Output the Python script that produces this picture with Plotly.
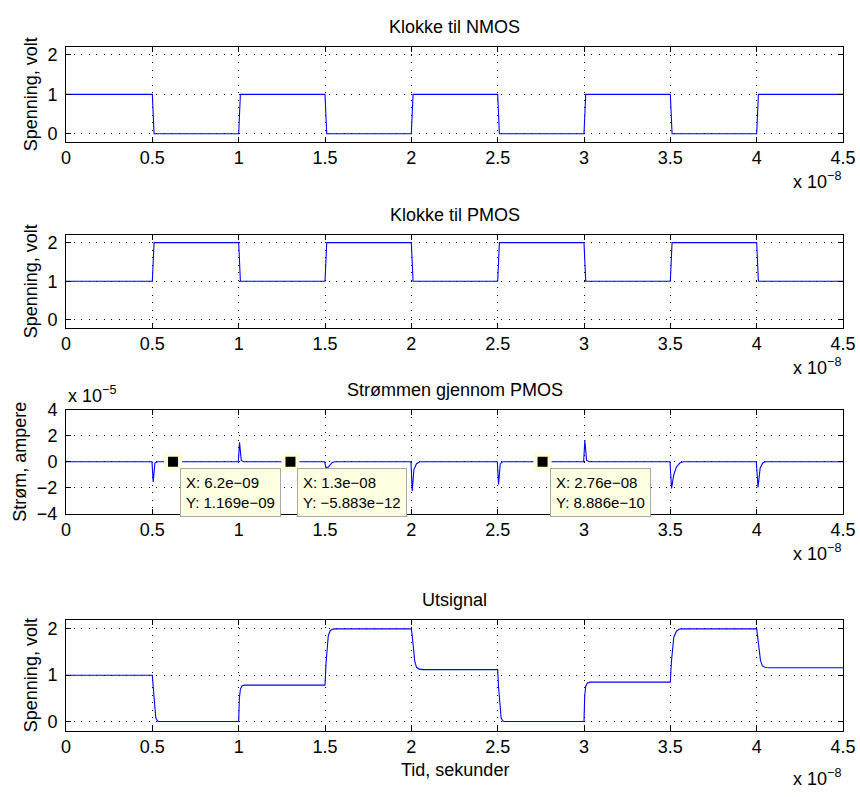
import plotly.graph_objects as go

# ---------------- data ----------------
# shared time axis ticks (seconds) and their labels (shown in units of 1e-8 s)
x_tickvals = [0, 5e-9, 1e-8, 1.5e-8, 2e-8, 2.5e-8, 3e-8, 3.5e-8, 4e-8, 4.5e-8]
x_ticktext = ["0", "0.5", "1", "1.5", "2", "2.5", "3", "3.5", "4", "4.5"]

volt_tickvals = [0, 1, 2]
volt_ticktext = ["0", "1", "2"]
amp_tickvals = [-4e-5, -2e-5, 0, 2e-5, 4e-5]
amp_ticktext = ["\u22124", "\u22122", "0", "2", "4"]

# clock edges
t_clk = [0, 5.0e-9, 5.1e-9, 1.0e-8, 1.01e-8, 1.5e-8, 1.51e-8, 2.0e-8, 2.01e-8,
         2.5e-8, 2.51e-8, 3.0e-8, 3.01e-8, 3.5e-8, 3.51e-8, 4.0e-8, 4.01e-8, 4.5e-8]
v_nmos = [1, 1, 0, 0, 1, 1, 0, 0, 1, 1, 0, 0, 1, 1, 0, 0, 1, 1]
v_pmos = [1, 1, 2, 2, 1, 1, 2, 2, 1, 1, 2, 2, 1, 1, 2, 2, 1, 1]

# current through the PMOS transistor (A)
t_cur = [0, 4.98e-9, 5.05e-9, 5.15e-9, 5.3e-9,
         9.98e-9, 1.005e-8, 1.015e-8, 1.03e-8,
         1.498e-8, 1.505e-8, 1.52e-8, 1.53e-8, 1.54e-8, 1.555e-8,
         1.998e-8, 2.005e-8, 2.015e-8, 2.03e-8, 2.05e-8,
         2.498e-8, 2.505e-8, 2.515e-8, 2.53e-8,
         2.998e-8, 3.005e-8, 3.015e-8, 3.03e-8,
         3.498e-8, 3.507e-8, 3.52e-8, 3.535e-8, 3.555e-8, 3.575e-8,
         3.998e-8, 4.008e-8, 4.02e-8, 4.035e-8, 4.05e-8,
         4.5e-8]
i_cur = [0, 0, -1.55e-5, -0.1e-5, 0,
         0, 1.5e-5, 0.1e-5, 0,
         0, -0.45e-5, -0.4e-5, -0.25e-5, -0.08e-5, 0,
         0, -2.25e-5, -0.6e-5, -0.15e-5, 0,
         0, -1.75e-5, -0.15e-5, 0,
         0, 1.65e-5, 0.1e-5, 0,
         0, -2.05e-5, -1.0e-5, -0.4e-5, -0.1e-5, 0,
         0, -1.98e-5, -0.5e-5, -0.1e-5, 0,
         0]

# output voltage
t_out = [0, 5.0e-9, 5.05e-9, 5.12e-9, 5.2e-9, 5.3e-9, 5.4e-9,
         1.0e-8, 1.004e-8, 1.01e-8, 1.02e-8, 1.035e-8,
         1.5e-8, 1.506e-8, 1.519e-8, 1.53e-8, 1.545e-8, 1.56e-8,
         2.0e-8, 2.005e-8, 2.011e-8, 2.02e-8, 2.03e-8, 2.045e-8, 2.07e-8,
         2.5e-8, 2.505e-8, 2.512e-8, 2.52e-8, 2.53e-8, 2.54e-8,
         3.0e-8, 3.004e-8, 3.01e-8, 3.02e-8, 3.035e-8,
         3.5e-8, 3.506e-8, 3.52e-8, 3.535e-8, 3.55e-8, 3.57e-8,
         4.0e-8, 4.005e-8, 4.012e-8, 4.022e-8, 4.033e-8, 4.05e-8, 4.08e-8,
         4.5e-8]
v_out = [1.0, 1.0, 0.75, 0.35, 0.08, 0.01, 0.0,
         0.0, 0.5, 0.7, 0.77, 0.785,
         0.785, 1.26, 1.85, 1.96, 1.995, 2.0,
         2.0, 1.85, 1.6, 1.3, 1.17, 1.13, 1.12,
         1.12, 0.75, 0.35, 0.08, 0.01, 0.0,
         0.0, 0.55, 0.76, 0.83, 0.85,
         0.85, 1.28, 1.82, 1.95, 1.99, 2.0,
         2.0, 1.85, 1.6, 1.32, 1.2, 1.165, 1.16,
         1.16]

# data cursors on the current plot
tip_x = [6.2e-9, 1.3e-8, 2.76e-8]
tip_y = [1.169e-9, -5.883e-12, 8.886e-10]

titles = ["Klokke til NMOS", "Klokke til PMOS", "Str\u00f8mmen gjennom PMOS", "Utsignal"]
ylabels = ["Spenning, volt", "Spenning, volt", "Str\u00f8m, ampere", "Spenning, volt"]

# ---------------- layout helpers ----------------
FIG_W, FIG_H = 860, 797
M_L, M_R = 66, 17
PW = FIG_W - M_L - M_R
PH = FIG_H


def fx(px):
    return (px - M_L) / PW


def fy(py):
    return 1 - py / PH


FONT = "Liberation Sans, Arial, Helvetica, sans-serif"
FS = 18
BLUE = "#0000ff"

# pixel extents (top, bottom) of each axes box
boxes = [(38, 135), (230.7, 325.7), (410, 516.7), (625.3, 739.3)]
ylabel_px = [31, 31, 20, 31]
# vertical offset of the "x 10^-8" exponent below each box
exp_shift = [-25, -25, -25, -33]

fig = go.Figure()

series = [(t_clk, v_nmos), (t_clk, v_pmos), (t_cur, i_cur), (t_out, v_out)]
for k, (tx, ty) in enumerate(series):
    sfx = "" if k == 0 else str(k + 1)
    fig.add_trace(go.Scatter(x=tx, y=ty, mode="lines", xaxis="x" + sfx, yaxis="y" + sfx,
                             line=dict(color=BLUE, width=1.1), showlegend=False,
                             hoverinfo="skip"))

fig.add_trace(go.Scatter(x=tip_x, y=tip_y, mode="markers", xaxis="x3", yaxis="y3",
                         marker=dict(symbol="square", size=14, color="black",
                                     line=dict(color="#ffffd9", width=4)),
                         showlegend=False, cliponaxis=False, hoverinfo="skip"))

axis_common = dict(showline=True, linecolor="black", linewidth=1, mirror="ticks",
                   ticks="inside", ticklen=5, tickcolor="black", tickwidth=1,
                   showgrid=True, gridcolor="black", gridwidth=1, griddash="1px,6.5px",
                   zeroline=False, tickfont=dict(family=FONT, size=FS, color="black"))

layout = dict(width=FIG_W, height=FIG_H, margin=dict(l=M_L, r=M_R, t=0, b=0),
              paper_bgcolor="white", plot_bgcolor="white",
              font=dict(family=FONT, size=FS, color="black"), annotations=[])

yranges = [[-0.2, 2.2], [-0.2, 2.2], [-4e-5, 4e-5], [-0.2, 2.2]]
for k, (top, bot) in enumerate(boxes):
    sfx = "" if k == 0 else str(k + 1)
    layout["xaxis" + sfx] = dict(axis_common, domain=[0, 1], anchor="y" + sfx,
                                 range=[0, 4.5e-8], tickvals=x_tickvals,
                                 ticktext=x_ticktext, ticklabelstandoff=0)
    if k == 2:
        yt, ytt = amp_tickvals, amp_ticktext
    else:
        yt, ytt = volt_tickvals, volt_ticktext
    layout["yaxis" + sfx] = dict(axis_common, domain=[fy(bot), fy(top)], anchor="x" + sfx,
                                 range=yranges[k], tickvals=yt, ticktext=ytt,
                                 ticklabelstandoff=4)
    # title
    layout["annotations"].append(dict(text=titles[k], xref="paper", yref="paper",
                                      x=0.5, y=fy(top), xanchor="center", yanchor="middle",
                                      yshift=20, showarrow=False,
                                      font=dict(family=FONT, size=FS)))
    # y label
    layout["annotations"].append(dict(text=ylabels[k], xref="paper", yref="paper",
                                      x=fx(ylabel_px[k]), y=fy((top + bot) / 2),
                                      xanchor="center", yanchor="middle", textangle=-90,
                                      showarrow=False, font=dict(family=FONT, size=FS)))
    # exponent of the time axis
    layout["annotations"].append(dict(text="x 10<sup>\u22128</sup>", xref="paper", yref="paper",
                                      x=1, y=fy(bot), xanchor="right", yanchor="top",
                                      yshift=exp_shift[k], showarrow=False,
                                      font=dict(family=FONT, size=FS)))

# exponent of the current axis
top3 = boxes[2][0]
layout["annotations"].append(dict(text="x 10<sup>\u22125</sup>", xref="paper", yref="paper",
                                  x=0, y=fy(top3), xanchor="left", yanchor="bottom",
                                  yshift=2, showarrow=False, font=dict(family=FONT, size=FS)))

# x label of the last axes
layout["annotations"].append(dict(text="Tid, sekunder", xref="paper", yref="paper",
                                  x=0.5, y=fy(boxes[3][1]), xanchor="center", yanchor="middle",
                                  yshift=-39, showarrow=False, font=dict(family=FONT, size=FS)))


def fmt(v):
    return f"{v:.4g}".replace("-", "\u2212")


for tx, ty in zip(tip_x, tip_y):
    layout["annotations"].append(dict(text=f"X: {fmt(tx)}<br>Y: {fmt(ty)}",
                                      xref="x3", yref="y3", x=tx, y=ty,
                                      xanchor="left", yanchor="top", xshift=7, yshift=-6,
                                      align="left", showarrow=False,
                                      bgcolor="#ffffe1", bordercolor="#a8a8a8",
                                      borderwidth=1, borderpad=5,
                                      font=dict(family=FONT, size=15, color="black")))

fig.update_layout(layout)
fig.write_html("out.html")
